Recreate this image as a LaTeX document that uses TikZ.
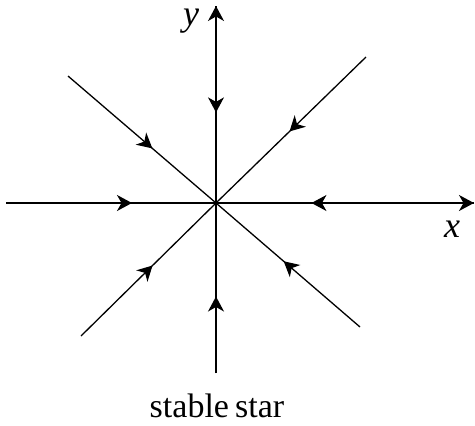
\documentclass[tikz,border=0pt]{standalone}
\usepackage{fontspec}
\setmainfont{Liberation Serif}
\usetikzlibrary{arrows.meta, decorations.markings}

\begin{document}
\begin{tikzpicture}[
    x=1pt, y=-1pt,
    line width=1.3pt,
    axis/.style={-{Stealth[length=15pt,width=16pt,inset=4.5pt]}},
    flow/.style={postaction={decorate}, decoration={markings,
        mark=at position #1 with {\arrow{Stealth[length=15pt,width=16pt,inset=4.5pt]}}}},
    lbl/.style={font=\fontsize{36}{40}\selectfont, inner sep=0pt, anchor=base}
]
\useasboundingbox (0,0) rectangle (475,426);

% origin and ends of the trajectories
\coordinate (O)  at (216,203);
\coordinate (W)  at (6,203);
\coordinate (E)  at (474,203);
\coordinate (N)  at (216,6);
\coordinate (S)  at (216,373);
\coordinate (NW) at (68,76);
\coordinate (NE) at (366,57);
\coordinate (SW) at (81,336);
\coordinate (SE) at (360,327);

% axes
\draw[axis] (W) -- (E);
\draw[axis] (S) -- (N);

% trajectories into the origin
\draw[flow=0.60] (W) -- (O);
\draw[flow=0.63] (E) -- (O);
\draw[flow=0.54] (N) -- (O);
\draw[flow=0.45] (S) -- (O);
\draw[flow=0.57] (NW) -- (O);
\draw[flow=0.51] (NE) -- (O);
\draw[flow=0.53] (SW) -- (O);
\draw[flow=0.53] (SE) -- (O);

% labels
\node[lbl] (ylab) at (191,25) {\textit{y}};
\node[lbl] (xlab) at (452,237) {\textit{x}};
\node[lbl, font=\fontsize{34}{38}\selectfont] (title) at (217,417) {stable\hspace{0.18em}star};
\end{tikzpicture}
\end{document}
